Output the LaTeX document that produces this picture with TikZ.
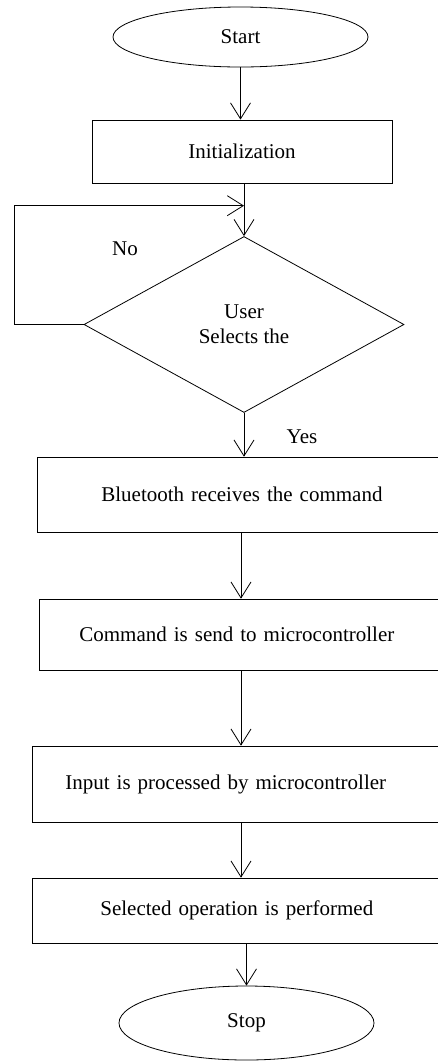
\documentclass[tikz,border=0pt]{standalone}
\usepackage{fontspec}
\setmainfont{Liberation Serif}
\usetikzlibrary{shapes.geometric,arrows.meta}
\begin{document}
\begin{tikzpicture}[x=1pt, y=-1pt, >={Straight Barb[length=16pt,width=20pt]}, line width=0.8pt,
  font=\fontsize{21}{25}\selectfont,
  term/.style={draw, ellipse, minimum width=255pt, inner sep=0pt},
  box/.style={draw, rectangle, inner sep=0pt},
  wide/.style={draw, rectangle, anchor=north west, text width=420pt, align=left, inner ysep=0pt},
  decision/.style={draw, diamond, minimum width=320pt, minimum height=176pt, inner sep=0pt, align=center}]
\useasboundingbox (0,0) rectangle (438,1061);
\clip (0,0) rectangle (438,1061);
\coordinate (axis) at (241,0);
\coordinate (join) at (244,205.7);
% blocks, top to bottom
\node[term, minimum height=60pt] (start) at (240.5,37) {Start};
\node[box, minimum width=300pt, minimum height=63pt] (init) at (242,151.5) {Initialization};
\node[decision] (d) at (244,324.5) {User\\Selects the};
\node[wide, inner xsep=64pt, minimum height=75pt] (bt) at (37,456.7) {Bluetooth receives the command};
\node[wide, inner xsep=40pt, minimum height=71pt] (cmd) at (39,598.7) {Command is send to microcontroller};
\node[wide, inner xsep=33pt, minimum height=76pt] (proc) at (32,745.7) {Input is processed by microcontroller};
\node[wide, inner xsep=68pt, minimum height=65pt] (op) at (32,877.7) {Selected operation is performed};
\node[term, minimum height=74pt] (stop) at (246.5,1023) {Stop};
\node (no) at (125,249) {No};
\node (yes) at (302,437) {Yes};
% connectors
\draw[->] (start.south) -- (start.south |- init.north);
\draw[->] (init.south -| d.north) -- (d.north);
\draw[->] (d.west) -- ++(-69,0) |- (join);
\draw[->] (d.south) -- (d.south |- bt.north);
\draw[->] (bt.south -| axis) -- (cmd.north -| axis);
\draw[->] (cmd.south -| axis) -- (proc.north -| axis);
\draw[->] (proc.south -| axis) -- (op.north -| axis);
\draw[->] (op.south -| stop.north) -- (stop.north);
\end{tikzpicture}
\end{document}
